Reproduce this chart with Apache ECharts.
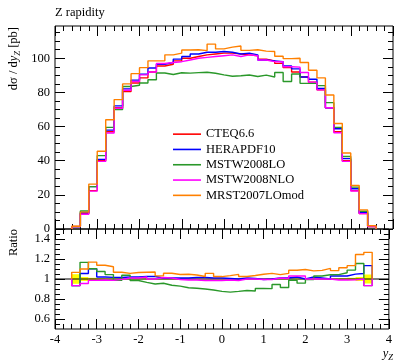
<!DOCTYPE html>
<html><head><meta charset="utf-8">
<script src="https://cdn.jsdelivr.net/npm/echarts@6/dist/echarts.min.js"></script>
<style>html,body{margin:0;padding:0;background:#fff}#c{width:395px;height:360px}</style>
</head><body><div id="c"></div>
<script>
// ---------------- data ----------------
const seriesNames = ['CTEQ6.6', 'HERAPDF10', 'MSTW2008LO', 'MSTW2008NLO', 'MRST2007LOmod'];
const seriesColors = ['#ff0000', '#0000ff', '#2a982a', '#ff00ff', '#ff8000'];
const binEdges = [-3.6,-3.4,-3.2,-3.0,-2.8,-2.6,-2.4,-2.2,-2.0,-1.8,-1.6,-1.4,-1.2,-1.0,-0.8,-0.6,-0.4,-0.2,0.0,
  0.2,0.4,0.6,0.8,1.0,1.2,1.4,1.6,1.8,2.0,2.2,2.4,2.6,2.8,3.0,3.2,3.4,3.6];
const cteq66 = [1.5, 9.0, 22.5, 40.0, 57.0, 71.0, 80.5, 85.5, 88.5, 92.0, 95.5, 96.5, 98.5, 100.0, 101.0, 102.0, 102.5, 103.0,
  103.0, 102.5, 102.0, 101.5, 99.5, 98.5, 97.0, 94.5, 92.0, 89.0, 86.0, 81.5, 71.0, 57.0, 40.0, 22.5, 9.0, 1.5];
const herapdf10 = [1.4, 9.5, 24.8, 40.8, 57.9, 72.1, 82.1, 87.2, 90.7, 94.3, 96.5, 97.5, 99.5, 101.0, 102.5, 103.5, 103.5, 104.0,
  103.5, 102.5, 103.0, 102.0, 99.0, 98.5, 98.0, 95.5, 93.8, 89.0, 87.7, 82.3, 71.0, 58.7, 41.2, 23.6, 9.5, 1.7];
const mstw2008lo = [1.4, 10.5, 24.8, 43.0, 59.5, 70.0, 83.5, 84.2, 85.5, 87.4, 91.4, 90.5, 91.5, 91.3, 91.6, 91.8, 91.2, 90.3,
  89.5, 89.8, 90.2, 89.3, 90.1, 89.0, 91.7, 86.4, 90.8, 85.3, 85.5, 84.0, 74.0, 59.5, 42.5, 24.5, 10.4, 1.4];
const mstw2008nlo = [1.4, 8.6, 22.2, 39.6, 56.2, 70.7, 81.3, 86.4, 90.3, 92.0, 96.9, 97.5, 98.0, 99.0, 100.0, 100.5, 101.0, 101.5,
  102.0, 101.0, 102.0, 101.5, 99.0, 98.0, 98.0, 95.0, 94.8, 91.7, 86.0, 81.5, 71.0, 56.4, 39.6, 22.3, 9.0, 1.4];
const mrst2007lomod = [1.6, 9.9, 26.3, 45.5, 64.0, 75.8, 85.0, 91.0, 94.5, 98.5, 98.5, 102.0, 103.0, 104.8, 105.0, 104.5, 108.3, 105.5,
  106.5, 107.2, 104.6, 105.0, 104.2, 104.0, 101.2, 99.8, 100.0, 97.5, 93.0, 88.5, 78.5, 61.8, 44.5, 25.5, 11.2, 1.9];
const cteq66RelErr = [0.048, 0.02, 0.012, 0.008, 0.006, 0.005, 0.004, 0.004, 0.004, 0.004, 0.004, 0.004, 0.004, 0.004, 0.004, 0.004, 0.004, 0.004,
  0.004, 0.004, 0.004, 0.004, 0.004, 0.004, 0.004, 0.004, 0.004, 0.004, 0.004, 0.004, 0.005, 0.006, 0.008, 0.012, 0.02, 0.045];
const xTickValues = [-4, -3, -2, -1, 0, 1, 2, 3, 4];
const yTickValues = [0, 20, 40, 60, 80, 100];
const yMinorTickValues = [0,5,10,15,20,25,30,35,40,45,50,55,60,65,70,75,80,85,90,95,100,105,110,115];
const ratioTickValues = [0.6, 0.8, 1, 1.2, 1.4];
const ratioMinorTickValues = [0.55,0.6,0.65,0.7,0.75,0.8,0.85,0.9,0.95,1,1.05,1.1,1.15,1.2,1.25,1.3,1.35,1.4,1.45];
const mainYMax = 118.9;
const ratioRange = [0.5, 1.5];
const titleText = 'Z rapidity';

// ---------------- chart ----------------
const FONT = '"Liberation Serif", "DejaVu Serif", serif';
const FS = 12.5;
const allValues = [cteq66, herapdf10, mstw2008lo, mstw2008nlo, mrst2007lomod];

function histPoints(vals, base) {
  const pts = [[binEdges[0], base]];
  for (let i = 0; i < vals.length; i++) pts.push([binEdges[i + 1], vals[i]]);
  pts.push([binEdges[binEdges.length - 1], base]);
  return pts;
}
function xAxisDef(grid, pos, showLabel) {
  return {
    type: 'value', gridIndex: grid, position: pos, min: xTickValues[0], max: xTickValues[xTickValues.length - 1], interval: 1,
    axisLine: { show: false, onZero: false }, splitLine: { show: false },
    axisTick: { show: true, inside: true, length: 10, lineStyle: { color: '#000', width: 1 } },
    minorTick: { show: true, splitNumber: 5, length: 5, lineStyle: { color: '#000', width: 1 } },
    minorSplitLine: { show: false },
    axisLabel: { show: showLabel, margin: 4, color: '#000', fontFamily: FONT, fontSize: FS,
      formatter: v => String(v) }
  };
}
function yAxisDef(grid, pos, min, max, ticks, len, showLabel, fmt) {
  return {
    type: 'value', gridIndex: grid, position: pos, min: min, max: max,
    axisLine: { show: false, onZero: false }, splitLine: { show: false },
    axisTick: { show: true, inside: true, length: len, customValues: ticks, lineStyle: { color: '#000', width: 1 } },
    axisLabel: { show: showLabel, customValues: ticks, margin: 5, color: '#000', fontFamily: FONT, fontSize: FS,
      formatter: fmt || (v => String(v)) }
  };
}
const ratioFmt = v => String(+(+v).toFixed(2));

const series = [];
allValues.forEach((vals, k) => {
  series.push({
    name: seriesNames[k], type: 'line', xAxisIndex: 0, yAxisIndex: 0, step: 'start',
    data: histPoints(vals, 0), symbol: 'none', showSymbol: false,
    lineStyle: { color: seriesColors[k], width: 1.4 }, itemStyle: { color: seriesColors[k] },
    animation: false, silent: true
  });
});
series.push({
  name: 'refband', type: 'custom', xAxisIndex: 2, yAxisIndex: 4,
  data: cteq66RelErr.map((e, i) => [binEdges[i], binEdges[i + 1], 1 - e, 1 + e]),
  encode: { x: [0, 1], y: [2, 3] },
  renderItem: (params, api) => {
    const p0 = api.coord([api.value(0), api.value(3)]);
    const p1 = api.coord([api.value(1), api.value(2)]);
    return { type: 'rect', shape: { x: p0[0], y: p0[1], width: p1[0] - p0[0], height: p1[1] - p0[1] },
      style: { fill: '#ffff00' } };
  },
  animation: false, silent: true, z: 1
});
series.push({
  name: 'refline', type: 'line', xAxisIndex: 2, yAxisIndex: 4, data: [[-4, 1], [4, 1]],
  symbol: 'none', lineStyle: { color: '#000', width: 1 }, animation: false, silent: true
});
allValues.forEach((vals, k) => {
  if (k === 0) return;
  const ratio = vals.map((v, i) => v / cteq66[i]);
  series.push({
    name: seriesNames[k] + ' ratio', type: 'line', xAxisIndex: 2, yAxisIndex: 4, step: 'start',
    data: histPoints(ratio, 1), symbol: 'none', showSymbol: false,
    lineStyle: { color: seriesColors[k], width: 1.4 }, animation: false, silent: true
  });
});

const option = {
  animation: false,
  backgroundColor: '#fff',
  grid: [
    { left: 55, top: 26, width: 338, height: 203, show: true, borderColor: '#000', borderWidth: 1, backgroundColor: 'transparent' },
    { left: 55, top: 229, width: 338, height: 100, show: true, borderColor: '#000', borderWidth: 1, backgroundColor: 'transparent' }
  ],
  xAxis: [xAxisDef(0, 'bottom', false), xAxisDef(0, 'top', false), xAxisDef(1, 'bottom', true), xAxisDef(1, 'top', false)],
  yAxis: [
    yAxisDef(0, 'left', 0, mainYMax, yTickValues, 10, true),
    yAxisDef(0, 'left', 0, mainYMax, yMinorTickValues, 5, false),
    yAxisDef(0, 'right', 0, mainYMax, yTickValues, 10, false),
    yAxisDef(0, 'right', 0, mainYMax, yMinorTickValues, 5, false),
    yAxisDef(1, 'left', ratioRange[0], ratioRange[1], ratioTickValues, 10, true, ratioFmt),
    yAxisDef(1, 'left', ratioRange[0], ratioRange[1], ratioMinorTickValues, 5, false),
    yAxisDef(1, 'right', ratioRange[0], ratioRange[1], ratioTickValues, 10, false),
    yAxisDef(1, 'right', ratioRange[0], ratioRange[1], ratioMinorTickValues, 5, false)
  ],
  legend: {
    data: seriesNames.map(n => ({ name: n, icon: 'rect' })), orient: 'vertical', left: 173, top: 126.5, padding: 0,
    itemWidth: 28, itemHeight: 1.6, itemGap: 0, selectedMode: false,
    textStyle: { fontFamily: FONT, fontSize: FS, color: '#000', lineHeight: 15.3, padding: [0, 0, 0, 0] }
  },
  graphic: [
    { type: 'text', x: 55, y: 13, style: { text: titleText, fontFamily: FONT, fontSize: FS, fill: '#000', verticalAlign: 'middle', align: 'left' } },
    { type: 'text', x: 14, y: 27, rotation: Math.PI / 2,
      style: { text: '{a|dσ / d}{i|y}{s|Z}{a| [pb]}', align: 'right', verticalAlign: 'middle', fill: '#000',
        rich: { a: { fontFamily: FONT, fontSize: FS }, i: { fontFamily: FONT, fontSize: FS, fontStyle: 'italic' },
          s: { fontFamily: FONT, fontSize: 8.5, fontStyle: 'italic', padding: [7, 0, 0, 0] } } } },
    { type: 'text', x: 14, y: 229, rotation: Math.PI / 2,
      style: { text: 'Ratio', fontFamily: FONT, fontSize: FS, fill: '#000', align: 'right', verticalAlign: 'middle' } },
    { type: 'text', x: 393, y: 354,
      style: { text: '{i|y}{s|Z}', align: 'right', verticalAlign: 'middle', fill: '#000',
        rich: { i: { fontFamily: FONT, fontSize: FS, fontStyle: 'italic' },
          s: { fontFamily: FONT, fontSize: 8.5, fontStyle: 'italic', padding: [7, 0, 0, 0] } } } }
  ],
  series: series
};
const chart = echarts.init(document.getElementById('c'), null, { renderer: 'canvas' });
chart.setOption(option);
</script></body></html>
